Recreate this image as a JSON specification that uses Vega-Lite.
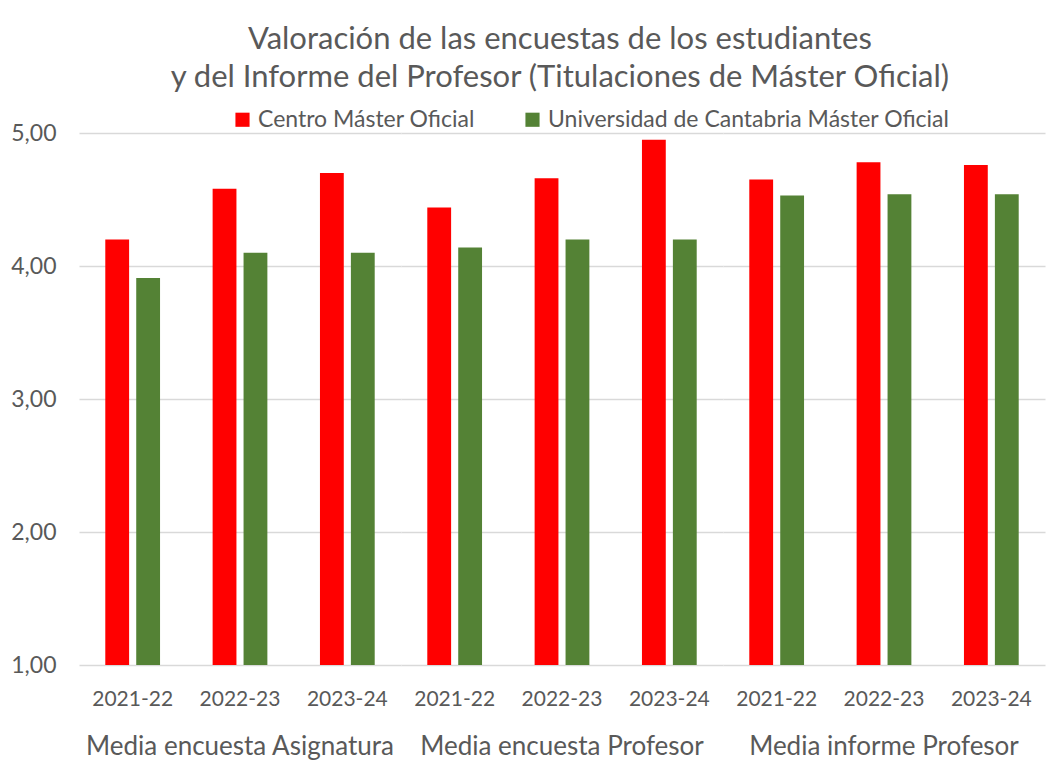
{
  "$schema": "https://vega.github.io/schema/vega-lite/v6.json",
  "padding": {"left": 10, "top": 24, "right": 5, "bottom": 0},
  "background": "white",
  "title": {
    "text": ["Valoración de las encuestas de los estudiantes", "y del Informe del Profesor (Titulaciones de Máster Oficial)"],
    "font": "Lato",
    "fontSize": 31,
    "fontWeight": "normal",
    "color": "#595959",
    "anchor": "middle",
    "dx": 32,
    "lineHeight": 38,
    "offset": 14
  },
  "data": {
    "values": [
      {"grupo": "Media encuesta Asignatura", "curso": "2021-22", "serie": "Centro Máster Oficial", "valor": 4.20},
      {"grupo": "Media encuesta Asignatura", "curso": "2021-22", "serie": "Universidad de Cantabria Máster Oficial", "valor": 3.91},
      {"grupo": "Media encuesta Asignatura", "curso": "2022-23", "serie": "Centro Máster Oficial", "valor": 4.58},
      {"grupo": "Media encuesta Asignatura", "curso": "2022-23", "serie": "Universidad de Cantabria Máster Oficial", "valor": 4.10},
      {"grupo": "Media encuesta Asignatura", "curso": "2023-24", "serie": "Centro Máster Oficial", "valor": 4.70},
      {"grupo": "Media encuesta Asignatura", "curso": "2023-24", "serie": "Universidad de Cantabria Máster Oficial", "valor": 4.10},
      {"grupo": "Media encuesta Profesor", "curso": "2021-22", "serie": "Centro Máster Oficial", "valor": 4.44},
      {"grupo": "Media encuesta Profesor", "curso": "2021-22", "serie": "Universidad de Cantabria Máster Oficial", "valor": 4.14},
      {"grupo": "Media encuesta Profesor", "curso": "2022-23", "serie": "Centro Máster Oficial", "valor": 4.66},
      {"grupo": "Media encuesta Profesor", "curso": "2022-23", "serie": "Universidad de Cantabria Máster Oficial", "valor": 4.20},
      {"grupo": "Media encuesta Profesor", "curso": "2023-24", "serie": "Centro Máster Oficial", "valor": 4.95},
      {"grupo": "Media encuesta Profesor", "curso": "2023-24", "serie": "Universidad de Cantabria Máster Oficial", "valor": 4.20},
      {"grupo": "Media informe Profesor", "curso": "2021-22", "serie": "Centro Máster Oficial", "valor": 4.65},
      {"grupo": "Media informe Profesor", "curso": "2021-22", "serie": "Universidad de Cantabria Máster Oficial", "valor": 4.53},
      {"grupo": "Media informe Profesor", "curso": "2022-23", "serie": "Centro Máster Oficial", "valor": 4.78},
      {"grupo": "Media informe Profesor", "curso": "2022-23", "serie": "Universidad de Cantabria Máster Oficial", "valor": 4.54},
      {"grupo": "Media informe Profesor", "curso": "2023-24", "serie": "Centro Máster Oficial", "valor": 4.76},
      {"grupo": "Media informe Profesor", "curso": "2023-24", "serie": "Universidad de Cantabria Máster Oficial", "valor": 4.54}
    ]
  },
  "facet": {
    "column": {
      "field": "grupo",
      "type": "nominal",
      "sort": ["Media encuesta Asignatura", "Media encuesta Profesor", "Media informe Profesor"],
      "header": {
        "title": null,
        "labelOrient": "bottom",
        "labelFont": "Lato",
        "labelFontSize": 26,
        "labelColor": "#595959",
        "labelPadding": 25
      }
    }
  },
  "spacing": 0,
  "spec": {
    "width": 322,
    "height": 532,
    "mark": {"type": "bar"},
    "encoding": {
      "x": {
        "field": "curso",
        "type": "nominal",
        "scale": {"paddingInner": 0, "paddingOuter": 0},
        "axis": {
          "title": null,
          "labelAngle": 0,
          "ticks": false,
          "domain": false,
          "labelFont": "Lato",
          "labelFontSize": 21,
          "labelColor": "#595959",
          "labelPadding": 23
        }
      },
      "xOffset": {
        "field": "serie",
        "type": "nominal",
        "sort": ["Centro Máster Oficial", "Universidad de Cantabria Máster Oficial"],
        "scale": {"paddingInner": 0.23, "paddingOuter": 0.85}
      },
      "y": {
        "field": "valor",
        "type": "quantitative",
        "scale": {"domain": [1, 5], "zero": false, "nice": false},
        "axis": {
          "title": null,
          "values": [1, 2, 3, 4, 5],
          "labelExpr": "replace(format(datum.value, '.2f'), '.', ',')",
          "ticks": false,
          "domain": false,
          "labelFont": "Lato",
          "labelFontSize": 23,
          "labelColor": "#595959",
          "labelPadding": 23,
          "gridColor": "#d9d9d9",
          "gridWidth": 1.3,
          "minExtent": 68,
          "maxExtent": 68
        }
      },
      "y2": {"datum": 1},
      "color": {
        "field": "serie",
        "type": "nominal",
        "scale": {
          "domain": ["Centro Máster Oficial", "Universidad de Cantabria Máster Oficial"],
          "range": ["#ff0000", "#548235"]
        },
        "legend": {
          "title": null,
          "orient": "none",
          "direction": "horizontal",
          "legendX": 152,
          "legendY": -25,
          "symbolType": "square",
          "symbolSize": 200,
          "symbolStrokeWidth": 0,
          "labelFont": "Lato",
          "labelFontSize": 23,
          "labelColor": "#595959",
          "columnPadding": 46,
          "labelLimit": 600
        }
      }
    }
  },
  "config": {
    "view": {"stroke": null},
    "font": "Lato"
  }
}
